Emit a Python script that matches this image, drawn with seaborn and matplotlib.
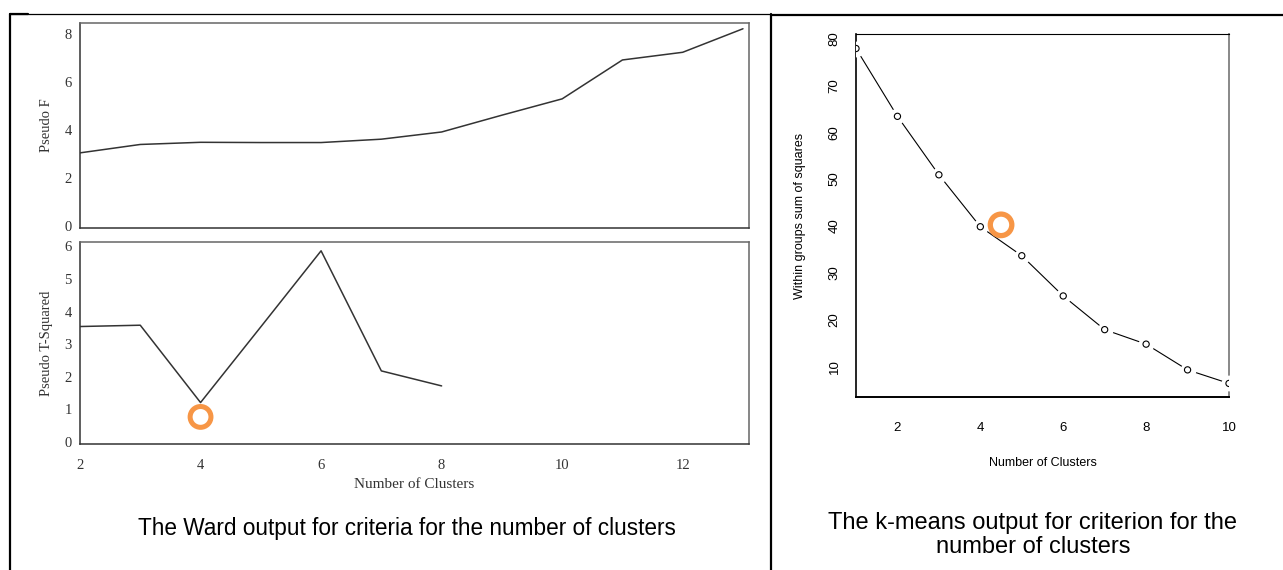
"""
Ward vs k-means criteria for choosing the number of clusters
"""
import matplotlib
matplotlib.use("Agg")
import matplotlib.pyplot as plt
from matplotlib.lines import Line2D
import seaborn as sns

# Ward criteria
ward_k = [2, 3, 4, 5, 6, 7, 8, 9, 10, 11, 12, 13]
pseudo_f = [3.05, 3.40, 3.49, 3.48, 3.48, 3.62, 3.92, 4.62, 5.30, 6.92, 7.24, 8.22]
t2_k = [2, 3, 4, 5, 6, 7, 8]
pseudo_t2 = [3.54, 3.58, 1.21, 3.53, 5.86, 2.18, 1.72]
ward_pick_x = [4]
ward_pick_y = [0.77]

# k-means elbow
km_k = [1, 2, 3, 4, 5, 6, 7, 8, 9, 10]
wss = [77.9, 63.4, 50.9, 39.8, 33.6, 25.0, 17.8, 14.7, 9.2, 6.3]
km_pick_x = [4.5]
km_pick_y = [40.2]

ward_yticks_f = [0, 2, 4, 6, 8]
ward_yticks_t2 = [0, 1, 2, 3, 4, 5, 6]
ward_xticks = [2, 4, 6, 8, 10, 12]
km_xticks = [2, 4, 6, 8, 10]
km_yticks = [10, 20, 30, 40, 50, 60, 70, 80]

ORANGE = "#F79646"
SERIF = ["Liberation Serif", "DejaVu Serif"]
W, H = 1283, 570

sns.set_style("white")
plt.rcParams["font.family"] = ["Liberation Sans", "DejaVu Sans"]
plt.rcParams["text.color"] = "black"
plt.rcParams["axes.labelcolor"] = "black"
plt.rcParams["xtick.color"] = "black"
plt.rcParams["ytick.color"] = "black"

fig = plt.figure(figsize=(W / 100, H / 100), dpi=100)


def px_axes(x0, y0, x1, y1):
    # axes from pixel box (top-left origin)
    return fig.add_axes([x0 / W, 1 - y1 / H, (x1 - x0) / W, (y1 - y0) / H])


def style_ward(ax, xticks, yticks):
    for s in ax.spines.values():
        s.set_color("#666666")
        s.set_linewidth(1.1)
    ax.spines["left"].set_color("#333333")
    ax.spines["bottom"].set_color("#333333")
    ax.set_yticks(yticks)
    ax.set_yticklabels([str(v) for v in yticks], family=SERIF, fontsize=10.5, color="#333333")
    ax.set_xticks(xticks)
    ax.set_xticklabels([str(v) for v in xticks], family=SERIF, fontsize=10.5, color="#333333")
    ax.tick_params(axis="both", direction="out", length=4, width=1,
                   color="#333333", pad=2)
    ax.tick_params(axis="x", pad=7)


# --- Ward: Pseudo F ---
ax1 = px_axes(80, 23, 749, 228)
sns.lineplot(x=ward_k, y=pseudo_f, ax=ax1, color="#333333", lw=1.1)
ax1.set_xlim(2, 13.1)
ax1.set_ylim(-0.08, 8.46)
style_ward(ax1, [], ward_yticks_f)
ax1.set_ylabel("Pseudo F", family=SERIF, fontsize=10.5, color="#333333")
ax1.yaxis.set_label_coords(-0.050, 0.5)
ax1.yaxis.label.set_va("center")

# --- Ward: Pseudo T-Squared ---
ax2 = px_axes(80, 242, 749, 444)
sns.lineplot(x=t2_k, y=pseudo_t2, ax=ax2, color="#333333", lw=1.1)
sns.scatterplot(x=ward_pick_x, y=ward_pick_y, ax=ax2, s=225, marker="o",
                facecolor="none", edgecolor=ORANGE, linewidth=3.6, zorder=5)
ax2.set_xlim(2, 13.1)
ax2.set_ylim(-0.06, 6.13)
style_ward(ax2, ward_xticks, ward_yticks_t2)
ax2.set_ylabel("Pseudo T-Squared", family=SERIF, fontsize=10.5, color="#333333")
ax2.yaxis.set_label_coords(-0.050, 0.5)
ax2.yaxis.label.set_va("center")
ax2.set_xlabel("Number of Clusters", family=SERIF, fontsize=11, color="#333333")
ax2.xaxis.set_label_coords(0.5, -0.202)
ax2.xaxis.label.set_va("center")

# --- k-means elbow ---
ax3 = px_axes(856, 34, 1229, 397)
sns.lineplot(x=km_k, y=wss, ax=ax3, color="black", lw=0.8)
# white discs give the gaps around points, like R type="b"
sns.scatterplot(x=km_k, y=wss, ax=ax3, s=130, marker="o", color="white",
                linewidth=0, zorder=3)
sns.scatterplot(x=km_k, y=wss, ax=ax3, s=20, marker="o", facecolor="none",
                edgecolor="black", linewidth=0.8, zorder=4)
sns.scatterplot(x=km_pick_x, y=km_pick_y, ax=ax3, s=240, marker="o",
                facecolor="none", edgecolor=ORANGE, linewidth=3.8, zorder=5)
ax3.set_xlim(1, 10)
ax3.set_ylim(3.4, 81.0)
ax3.set_xticks(km_xticks)
ax3.set_yticks(km_yticks)
for s in ax3.spines.values():
    s.set_color("black")
    s.set_linewidth(0.8)
ax3.spines["right"].set_color("#888888")
ax3.spines["right"].set_linewidth(1.4)
ax3.spines["bottom"].set_linewidth(1.4)
ax3.spines["left"].set_linewidth(1.2)
ax3.tick_params(axis="both", direction="out", length=6, width=1, color="black",
                labelsize=9.5, pad=5)
ax3.tick_params(axis="x", pad=12)
for lab in ax3.get_yticklabels():
    lab.set_rotation(90)
    lab.set_va("center")
ax3.set_ylabel("Within groups sum of squares", fontsize=9)
ax3.yaxis.set_label_coords(-0.150, 0.5)
ax3.yaxis.label.set_va("center")
ax3.set_xlabel("Number of Clusters", fontsize=9)
ax3.xaxis.set_label_coords(0.5, -0.182)
ax3.xaxis.label.set_va("center")

# --- captions ---
fig.text(407 / W, 1 - 528 / H, "The Ward output for criteria for the number of clusters",
         ha="center", va="center", fontsize=16.3, color="black")
fig.text(1033 / W, 1 - 535 / H, "The k-means output for criterion for the\nnumber of clusters",
         ha="center", va="center", fontsize=17, linespacing=1.1, color="black")

# --- table borders ---
def px_line(x0, y0, x1, y1, lw):
    fig.add_artist(Line2D([x0 / W, x1 / W], [1 - y0 / H, 1 - y1 / H],
                          transform=fig.transFigure, color="black", lw=lw))


px_line(10, 14, 10, 570, 1.6)
px_line(10, 14, 771, 14, 0.9)
px_line(10, 14, 28, 14, 1.6)
px_line(771, 14, 771, 570, 1.6)
px_line(771, 15, 1283, 15, 1.6)

fig.savefig("out.png", dpi=100)
